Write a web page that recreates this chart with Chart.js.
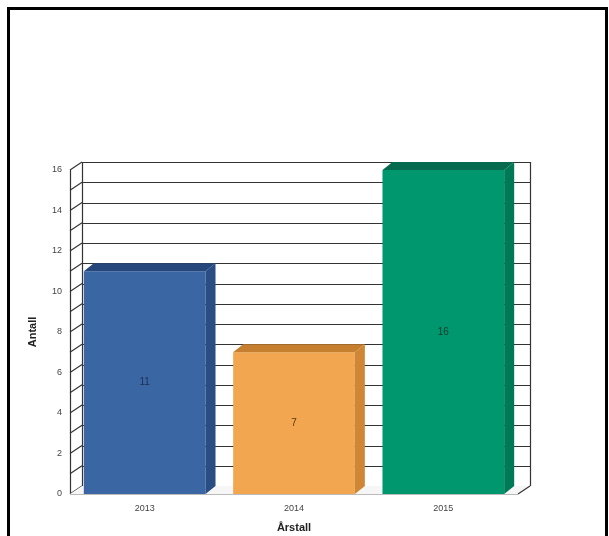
<!DOCTYPE html>
<html>
<head>
<meta charset="utf-8">
<script src="https://cdn.jsdelivr.net/npm/chart.js@4/dist/chart.umd.min.js"></script>
<style>
  html, body { margin: 0; padding: 0; background: #ffffff; }
  #wrap { position: relative; width: 609px; height: 536px; }
  canvas { display: block; }
</style>
</head>
<body>
<div id="wrap"><canvas id="c" width="609" height="536"></canvas></div>
<script>
// ---- data ----
const categories = ['2013', '2014', '2015'];
const values = [11, 7, 16];
const yTicks = [0, 2, 4, 6, 8, 10, 12, 14, 16];
const xTitle = 'Årstall';
const yTitle = 'Antall';

// ---- styles ----
const frontColors = ['#3a67a4', '#f2a650', '#00976f'];
const sideColors  = ['#2a4e83', '#cf8735', '#007957'];
const topColors   = ['#25467a', '#c67f2e', '#066a4f'];
const labelColors = ['#1b2f55', '#5a3a12', '#0b3b2b'];
const FONT = 'Arial, "Liberation Sans", sans-serif';

const WALL_DX = 12, WALL_DY = 8;   // depth of the 3D walls
const BAR_DX = 10, BAR_DY = 8;     // depth of the bars

const threeD = {
  id: 'threeD',
  beforeDraw(chart) {
    const ctx = chart.ctx;
    ctx.save();
    ctx.fillStyle = '#ffffff';
    ctx.fillRect(0, 0, chart.width, chart.height);
    // outer frame
    ctx.strokeStyle = '#000000';
    ctx.lineWidth = 3;
    ctx.beginPath();
    ctx.moveTo(8.5, 536);
    ctx.lineTo(8.5, 8.5);
    ctx.lineTo(606.5, 8.5);
    ctx.lineTo(606.5, 536);
    ctx.stroke();
    ctx.restore();
  },
  beforeDatasetsDraw(chart) {
    const ctx = chart.ctx;
    const y = chart.scales.y;
    const a = chart.chartArea;
    const L = a.left, R = a.right;
    const top = y.getPixelForValue(16), base = y.getPixelForValue(0);
    ctx.save();
    // back wall
    ctx.fillStyle = '#ffffff';
    ctx.fillRect(L + WALL_DX, top - WALL_DY, R - L, base - top);
    ctx.strokeStyle = '#333333';
    ctx.lineWidth = 1.2;
    for (let v = 0; v <= 16; v++) {
      const py = Math.round(y.getPixelForValue(v) - WALL_DY) + 0.5;
      ctx.beginPath();
      ctx.moveTo(L + WALL_DX, py);
      ctx.lineTo(R + WALL_DX, py);
      ctx.stroke();
      // left wall diagonals
      const fy = y.getPixelForValue(v);
      ctx.beginPath();
      ctx.moveTo(L, fy);
      ctx.lineTo(L + WALL_DX, fy - WALL_DY);
      ctx.stroke();
    }
    // verticals
    ctx.beginPath();
    ctx.moveTo(L + WALL_DX + 0.5, top - WALL_DY);
    ctx.lineTo(L + WALL_DX + 0.5, base - WALL_DY);
    ctx.moveTo(R + WALL_DX + 0.5, top - WALL_DY);
    ctx.lineTo(R + WALL_DX + 0.5, base - WALL_DY);
    ctx.moveTo(L + 0.5, top);
    ctx.lineTo(L + 0.5, base);
    ctx.stroke();
    // floor
    ctx.fillStyle = '#f6f6f6';
    ctx.beginPath();
    ctx.moveTo(L, base);
    ctx.lineTo(R, base);
    ctx.lineTo(R + WALL_DX, base - WALL_DY);
    ctx.lineTo(L + WALL_DX, base - WALL_DY);
    ctx.closePath();
    ctx.fill();
    ctx.strokeStyle = '#333333';
    ctx.beginPath();
    ctx.moveTo(R, base);
    ctx.lineTo(R + WALL_DX, base - WALL_DY);
    ctx.stroke();
    ctx.strokeStyle = '#bbbbbb';
    ctx.beginPath();
    ctx.moveTo(L, base + 0.5);
    ctx.lineTo(R, base + 0.5);
    ctx.stroke();
    ctx.restore();
  },
  afterDatasetsDraw(chart) {
    const ctx = chart.ctx;
    const meta = chart.getDatasetMeta(0);
    ctx.save();
    meta.data.forEach((bar, i) => {
      const p = bar.getProps(['x', 'y', 'base', 'width'], true);
      const xl = p.x - p.width / 2, xr = p.x + p.width / 2;
      // side face
      ctx.fillStyle = sideColors[i];
      ctx.beginPath();
      ctx.moveTo(xr, p.y);
      ctx.lineTo(xr + BAR_DX, p.y - BAR_DY);
      ctx.lineTo(xr + BAR_DX, p.base - BAR_DY);
      ctx.lineTo(xr, p.base);
      ctx.closePath();
      ctx.fill();
      // top face
      ctx.fillStyle = topColors[i];
      ctx.beginPath();
      ctx.moveTo(xl, p.y);
      ctx.lineTo(xl + BAR_DX, p.y - BAR_DY);
      ctx.lineTo(xr + BAR_DX, p.y - BAR_DY);
      ctx.lineTo(xr, p.y);
      ctx.closePath();
      ctx.fill();
      // value label
      ctx.fillStyle = labelColors[i];
      ctx.font = '10px ' + FONT;
      ctx.textAlign = 'center';
      ctx.textBaseline = 'middle';
      ctx.fillText(String(values[i]), p.x, (p.y + p.base) / 2);
    });
    ctx.restore();
  }
};

new Chart(document.getElementById('c'), {
  type: 'bar',
  data: {
    labels: categories,
    datasets: [{
      data: values,
      backgroundColor: frontColors,
      borderWidth: 0,
      categoryPercentage: 1.0,
      barPercentage: 0.815
    }]
  },
  options: {
    responsive: false,
    animation: false,
    events: [],
    layout: { padding: { top: 170, right: 91, left: 0, bottom: 0 } },
    plugins: { legend: { display: false }, tooltip: { enabled: false } },
    scales: {
      x: {
        grid: { display: false, drawTicks: false },
        border: { display: false },
        ticks: { color: '#444444', font: { family: FONT, size: 9 }, padding: 9 },
        title: { display: true, text: xTitle, color: '#222222',
                 font: { family: FONT, size: 11, weight: 'bold' }, padding: { top: 0, bottom: 1 } },
        afterFit(s) { s.height = 42; }
      },
      y: {
        min: 0, max: 16,
        grid: { display: false, drawTicks: false },
        border: { display: false },
        afterBuildTicks(s) { s.ticks = yTicks.map(v => ({ value: v })); },
        ticks: { color: '#444444', font: { family: FONT, size: 9 }, padding: 8 },
        title: { display: true, text: yTitle, color: '#222222',
                 font: { family: FONT, size: 11, weight: 'bold' }, padding: { top: 26, bottom: 0 } },
        afterFit(s) { s.width = 70; }
      }
    }
  },
  plugins: [threeD]
});
</script>
</body>
</html>
